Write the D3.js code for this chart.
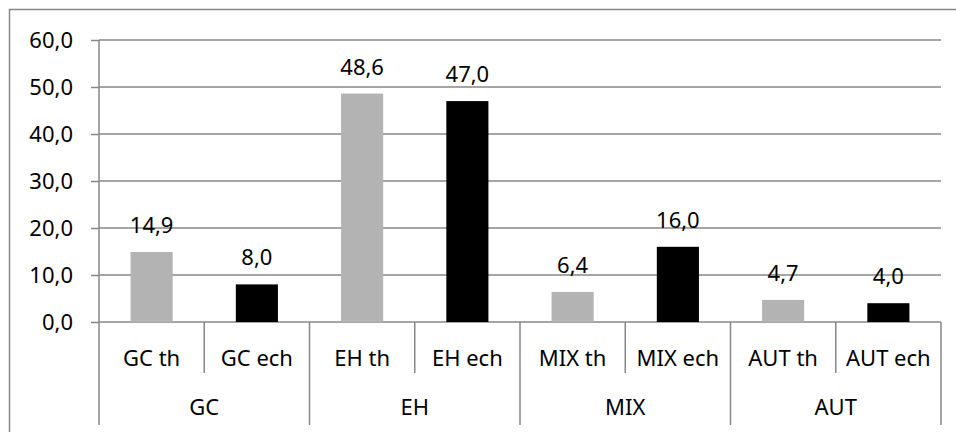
<!DOCTYPE html>
<html>
<head>
<meta charset="utf-8">
<script src="https://cdn.jsdelivr.net/npm/d3@7"></script>
<style>
  body { margin: 0; background: #fff; }
  text { font-family: "Noto Sans", sans-serif; font-size: 22px; fill: #000; }
</style>
</head>
<body>
<div id="chart"></div>
<script>
// donnees
const categories = ["GC th", "GC ech", "EH th", "EH ech", "MIX th", "MIX ech", "AUT th", "AUT ech"];
const groupes = ["GC", "EH", "MIX", "AUT"];
const valeurs = [14.9, 8.0, 48.6, 47.0, 6.4, 16.0, 4.7, 4.0];
const series = ["th", "ech", "th", "ech", "th", "ech", "th", "ech"];
const yTicks = [0, 10, 20, 30, 40, 50, 60];

const couleurs = { th: "#b3b3b3", ech: "#000000" };
const gris = "#878787";

const margin = { top: 40, right: 15, bottom: 110, left: 99 };
const width = 956 - margin.left - margin.right;
const height = 432 - margin.top - margin.bottom;

const locale = d3.formatLocale({ decimal: ",", thousands: " ", grouping: [3], currency: ["", "€"] });
const fmt = locale.format(".1f");

var svg = d3.select("#chart")
  .append("svg")
    .attr("width", 956)
    .attr("height", 432);

// cadre exterieur
svg.append("rect")
  .attr("x", 9.5).attr("y", 9.5)
  .attr("width", 960).attr("height", 440)
  .attr("fill", "none")
  .attr("stroke", gris)
  .attr("stroke-width", 1.5);

var g = svg.append("g")
  .attr("transform", "translate(" + margin.left + "," + margin.top + ")");

// echelles
var x = d3.scaleBand()
  .domain(categories)
  .range([0, width])
  .paddingInner(0.6)
  .paddingOuter(0.3);

var y = d3.scaleLinear()
  .domain([0, 60])
  .range([height, 0]);

// Y axis + grille
var yAxis = g.append("g")
  .call(d3.axisLeft(y).tickValues(yTicks).tickFormat(fmt).tickSize(8).tickPadding(18));
yAxis.select(".domain").remove();
yAxis.selectAll("line").attr("stroke", gris).attr("stroke-width", 1.5);
yAxis.selectAll("text").attr("font-size", 22).attr("font-family", "Noto Sans").attr("fill", "#000");

g.append("g")
  .selectAll("line")
  .data(yTicks)
  .join("line")
    .attr("x1", 0).attr("x2", width)
    .attr("y1", d => y(d)).attr("y2", d => y(d))
    .attr("stroke", gris)
    .attr("stroke-width", 1.5);

// axe vertical
g.append("line")
  .attr("x1", 0).attr("x2", 0)
  .attr("y1", 0).attr("y2", height + 103)
  .attr("stroke", gris).attr("stroke-width", 1.5);

// barres
g.append("g")
  .selectAll("rect")
  .data(valeurs)
  .join("rect")
    .attr("x", (d, i) => x(categories[i]))
    .attr("y", d => y(d))
    .attr("width", x.bandwidth())
    .attr("height", d => height - y(d))
    .attr("fill", (d, i) => couleurs[series[i]]);

// etiquettes de donnees
g.append("g")
  .selectAll("text")
  .data(valeurs)
  .join("text")
    .attr("x", (d, i) => x(categories[i]) + x.bandwidth() / 2)
    .attr("y", d => y(d) - 19)
    .attr("text-anchor", "middle")
    .text(d => fmt(d));

// axe des categories (2 niveaux)
const pas = x.step();
const cellStart = i => x(categories[i]) - x.paddingOuter() * pas;

g.append("g")
  .selectAll("line")
  .data(categories)
  .join("line")
    .attr("x1", (d, i) => cellStart(i) + pas)
    .attr("x2", (d, i) => cellStart(i) + pas)
    .attr("y1", height)
    .attr("y2", (d, i) => (i % 2 === 1) ? height + 103 : height + 51)
    .attr("stroke", gris).attr("stroke-width", 1.5);

g.append("g")
  .selectAll("text")
  .data(categories)
  .join("text")
    .attr("x", (d, i) => cellStart(i) + pas / 2)
    .attr("y", height + 36)
    .attr("dy", "0.35em")
    .attr("text-anchor", "middle")
    .text(d => d);

g.append("g")
  .selectAll("text")
  .data(groupes)
  .join("text")
    .attr("x", (d, i) => cellStart(i * 2) + pas)
    .attr("y", height + 85)
    .attr("dy", "0.35em")
    .attr("text-anchor", "middle")
    .text(d => d);
</script>
</body>
</html>
